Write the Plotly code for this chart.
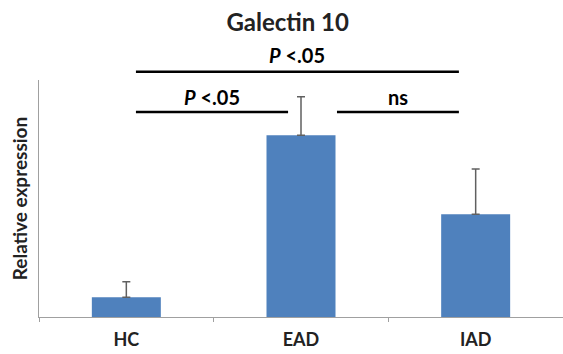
import plotly.graph_objects as go

categories = ["HC", "EAD", "IAD"]
values = [1.0, 9.2, 5.2]
errors = [0.79, 1.95, 2.3]

# significance brackets
bracket_x0 = [0.055, 0.055, 1.206]
bracket_x1 = [1.904, 0.926, 1.904]
bracket_labels = ["<i>P</i> <.05", "<i>P</i> <.05", "ns"]
bracket_level = [1, 0, 0]

line_y = {1: 1.035, 0: 0.865}
text_y = {1: 1.105, 0: 0.928}

fig = go.Figure()
fig.add_trace(go.Bar(
    x=categories, y=values, width=0.395,
    marker=dict(color="#4F81BD", line=dict(width=0)),
    error_y=dict(type="data", symmetric=False, array=errors,
                 arrayminus=[0, 0, 0], color="#606060", thickness=1.5, width=4),
))

for x0, x1, label, lvl in zip(bracket_x0, bracket_x1, bracket_labels, bracket_level):
    fig.add_shape(type="line", xref="x", yref="paper", x0=x0, x1=x1,
                  y0=line_y[lvl], y1=line_y[lvl], line=dict(color="black", width=2.5))
    fig.add_annotation(xref="x", yref="paper", x=(x0 + x1) / 2, y=text_y[lvl],
                       text="<b>" + label + "</b>", showarrow=False, yanchor="middle",
                       font=dict(size=20, color="black", family="Lato, Arial"))

fig.update_layout(
    width=563, height=354,
    margin=dict(l=39, r=0, t=80, b=37),
    paper_bgcolor="white", plot_bgcolor="white",
    showlegend=False,
    title=dict(text="<b>Galectin 10</b>", x=0.511, xanchor="center", y=0.935, yanchor="middle",
               font=dict(size=24, color="#222222", family="Lato, Arial")),
    font=dict(family="Lato, Arial", color="#222222"),
    xaxis=dict(range=[-0.5, 2.5], showline=True, linecolor="#a0a0a0", linewidth=1.2,
               ticks="outside", tickson="boundaries", ticklen=4, tickcolor="#a0a0a0",
               tickfont=dict(size=18, color="#222222", family="Lato, Arial"),
               ticklabelstandoff=6, showgrid=False, zeroline=False,
               tickvals=[0, 1, 2], ticktext=["<b>HC</b>", "<b>EAD</b>", "<b>IAD</b>"]),
    yaxis=dict(range=[0, 12], showline=True, linecolor="#a0a0a0", linewidth=1.2,
               showticklabels=False, ticks="", showgrid=False, zeroline=False,
               title=dict(text="<b>Relative expression</b>", standoff=5,
                          font=dict(size=19, color="#222222", family="Lato, Arial"))),
)

fig.write_html("out.html")
